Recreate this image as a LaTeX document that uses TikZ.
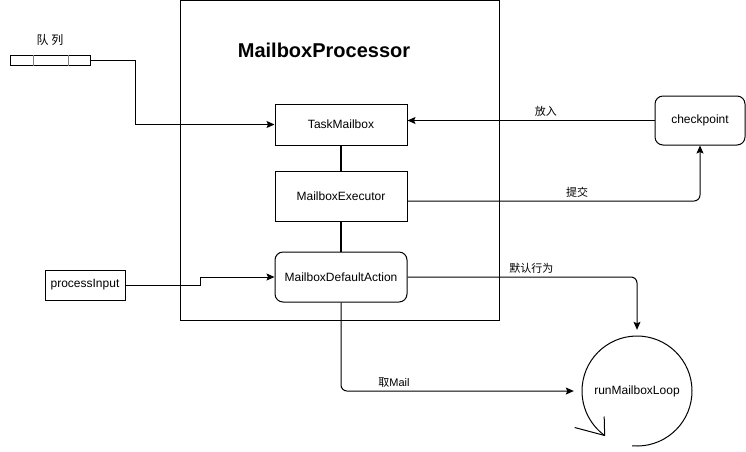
\documentclass[tikz,border=0pt]{standalone}
\usepackage{fontspec}
\setmainfont{Liberation Sans}
\newfontfamily\cjk{Noto Sans CJK SC}
\usetikzlibrary{arrows.meta,positioning}
\tikzset{
    %Define standard arrow tip
    >={Stealth[length=8pt,width=7pt,inset=1.5pt]},
    %Define style for boxes
    box/.style={
           rectangle,
           draw=black, line width=1pt,
           minimum width=132pt,
           minimum height=50pt,
           font=\fontsize{12pt}{14pt}\selectfont,
           text centered},
    roundbox/.style={
           box,
           rounded corners=8pt},
    % Define arrow style
    imply/.style={
           ->,
           line width=1pt},
    turn/.style={
           imply,
           rounded corners=6pt},
    link/.style={
           line width=2pt},
    edgelabel/.style={
           font=\cjk\fontsize{11pt}{13pt}\selectfont,
           above}
}

\begin{document}
\begin{tikzpicture}[x=1pt, y=-1pt, node distance=25pt]
 \useasboundingbox (0,0) rectangle (746,451);
 %nodes
    \node[draw, line width=1pt, minimum width=319.5pt, minimum height=319.5pt] (proc) at (339.75,160.25) {};
    \node[font=\bfseries\fontsize{20pt}{24pt}\selectfont] (title) at (324,50) {MailboxProcessor};
    \node[box, minimum height=41pt] (tm) at (341,124.5) {TaskMailbox};
    \node[box, below=25pt of tm] (exec) {MailboxExecutor};
    \node[roundbox, below=30pt of exec] (mda) {MailboxDefaultAction};
    \node[roundbox, minimum width=90pt, minimum height=49pt] (cp) at (700,120.5) {checkpoint};
    \node[box, minimum width=80pt, minimum height=30pt] (pin) at (85,285) {processInput};
    \node[circle, minimum size=110pt, font=\fontsize{12pt}{14pt}\selectfont] (loop) at (637,391) {runMailboxLoop};
    \node[draw, line width=1pt, minimum width=80pt, minimum height=10pt, inner sep=0pt] (qu) at (50,60) {};
    \node[font=\cjk\fontsize{12pt}{14pt}\selectfont, above=5pt of qu] (qlabel) {队 列};
    \foreach \dx in {-17,18}
        \draw[gray, line width=1pt] ([xshift=\dx pt]qu.north) -- ([xshift=\dx pt]qu.south);
 %edges
    \draw[imply] (qu.east) -- ++(45,0) |- (tm.west);
    \draw[imply] (pin.east) -- ++(75,0) |- (mda.west);
    \draw[link] (tm) -- (exec);
    \draw[link] (exec) -- (mda);
    \draw[imply] (cp.west) -- (cp.west -| tm.east) node[edgelabel, pos=0.44] {放入};
    \draw[turn] ([yshift=-5pt]exec.east) -| (cp.south) node[edgelabel, pos=0.29] {提交};
    \draw[turn, shorten >=6pt] (mda.east) -| (loop.north) node[edgelabel, pos=0.27] {默认行为};
    \draw[turn, shorten >=8pt] (mda.south) |- (loop.west) node[edgelabel, font=\fontsize{11pt}{13pt}\selectfont, pos=0.61] {{\cjk 取}Mail};
    % self loop with open head
    \draw[line width=1pt] ([shift={(-95:55pt)}]loop.center) arc[start angle=-95, end angle=234, radius=55pt] coordinate (looptip);
    \draw[line width=1pt] ([xshift=-0.5pt, yshift=19pt]looptip) -- (looptip) -- ++(-30,-8);
\end{tikzpicture}
\end{document}
